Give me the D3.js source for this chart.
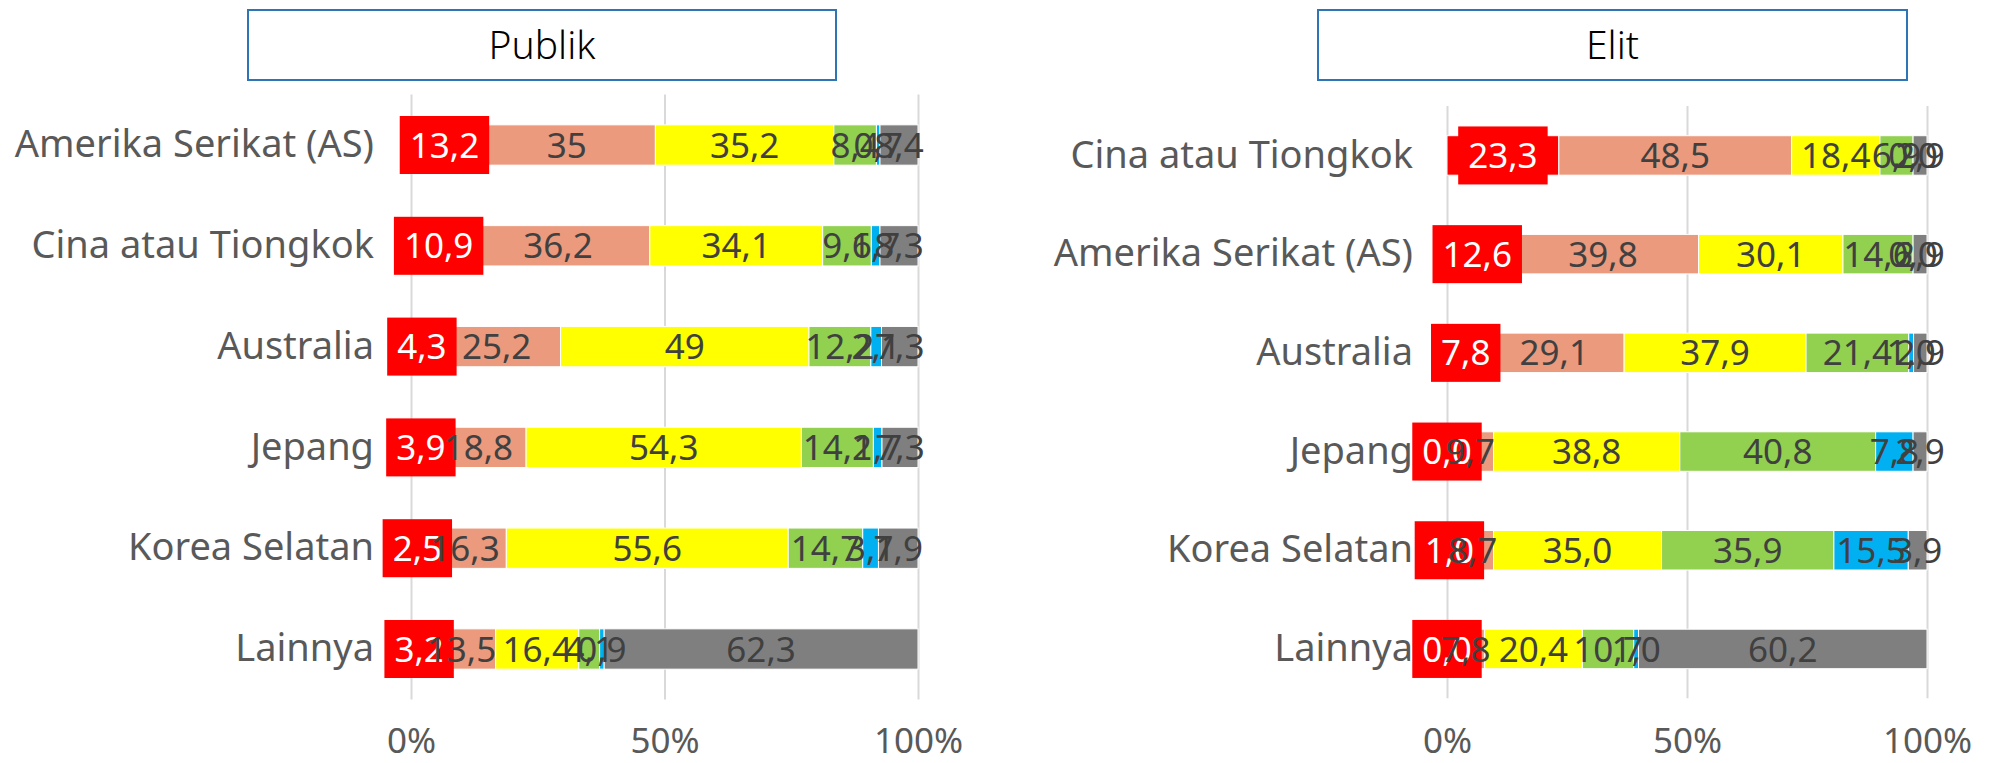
<!DOCTYPE html>
<html>
<head>
<meta charset="utf-8">
<script src="https://cdn.jsdelivr.net/npm/d3@7"></script>
<style>
  body { margin: 0; background: #fff; }
  svg { display: block; font-family: "Noto Sans", sans-serif; }
</style>
</head>
<body>
<svg id="chart" width="1996" height="763"></svg>
<script>
// Data
var seriesKeys = ["s1", "s2", "s3", "s4", "s5", "s6"];
var seriesColors = ["#ff0000", "#eb9a7e", "#ffff00", "#92d050", "#00b0f0", "#7f7f7f"];
var tickValues = [0, 50, 100];

var publikCategories = ["Amerika Serikat (AS)", "Cina atau Tiongkok", "Australia", "Jepang", "Korea Selatan", "Lainnya"];
var publikValues = [
  [13.2, 35, 35.2, 8.4, 0.7, 8.4],
  [10.9, 36.2, 34.1, 9.6, 1.7, 8.3],
  [4.3, 25.2, 49, 12.2, 2.1, 7.3],
  [3.9, 18.8, 54.3, 14.2, 1.7, 7.3],
  [2.5, 16.3, 55.6, 14.7, 3.1, 7.9],
  [3.2, 13.5, 16.4, 4.1, 0.9, 62.3]
];

var elitCategories = ["Cina atau Tiongkok", "Amerika Serikat (AS)", "Australia", "Jepang", "Korea Selatan", "Lainnya"];
var elitValues = [
  [23.3, 48.5, 18.4, 6.9, 0.0, 2.9],
  [12.6, 39.8, 30.1, 14.6, 0.0, 2.9],
  [7.8, 29.1, 37.9, 21.4, 1.0, 2.9],
  [0.0, 9.7, 38.8, 40.8, 7.8, 2.9],
  [1.0, 8.7, 35.0, 35.9, 15.5, 3.9],
  [0.0, 7.8, 20.4, 10.7, 1.0, 60.2]
];

// number formats (comma decimal)
var fmtGeneral = function(v) { return String(v).replace(".", ","); };
var fmtOneDec = function(v) { return v.toFixed(1).replace(".", ","); };

var panels = [
  { title: "Publik", cats: publikCategories, vals: publikValues, fmt: fmtGeneral,
    x0: 411, x1: 918, y0: 94.6, y1: 699.4, box: [248, 10, 588, 70], catGap: 37 },
  { title: "Elit", cats: elitCategories, vals: elitValues, fmt: fmtOneDec,
    x0: 1447, x1: 1927, y0: 106.1, y1: 698.3, box: [1318, 10, 589, 70], catGap: 34 }
];

var svg = d3.select("#chart");

panels.forEach(function(p) {
  var g = svg.append("g");

  // title box
  g.append("rect")
    .attr("x", p.box[0]).attr("y", p.box[1])
    .attr("width", p.box[2]).attr("height", p.box[3])
    .attr("fill", "#fff")
    .attr("stroke", "#2e75b6")
    .attr("stroke-width", 2);
  g.append("text")
    .attr("x", p.box[0] + p.box[2] / 2)
    .attr("y", p.box[1] + p.box[3] / 2)
    .attr("dy", "0.36em")
    .attr("text-anchor", "middle")
    .attr("font-size", 39)
    .attr("font-weight", 300)
    .attr("fill", "#000")
    .text(p.title);

  var x = d3.scaleLinear().domain([0, 100]).range([p.x0, p.x1]).clamp(true);
  var y = d3.scaleBand().domain(p.cats).range([p.y0, p.y1])
    .paddingInner(0.6).paddingOuter(0.3);

  // x axis with gridlines
  var xAxis = g.append("g")
    .attr("transform", "translate(0," + p.y1 + ")")
    .call(d3.axisBottom(x).tickValues(tickValues)
      .tickSize(-(p.y1 - p.y0))
      .tickPadding(753 - p.y1 - 25)
      .tickFormat(function(d) { return d + "%"; }));
  xAxis.select(".domain").remove();
  xAxis.selectAll(".tick line").attr("stroke", "#d9d9d9").attr("stroke-width", 2);
  xAxis.selectAll(".tick text")
    .attr("font-size", 35)
    .attr("font-family", "Noto Sans, sans-serif")
    .attr("fill", "#595959");

  // category axis
  var yAxis = g.append("g")
    .attr("transform", "translate(" + p.x0 + ",0)")
    .call(d3.axisLeft(y).tickSize(0).tickPadding(p.catGap));
  yAxis.select(".domain").remove();
  yAxis.selectAll(".tick text")
    .attr("font-size", 38)
    .attr("font-family", "Noto Sans, sans-serif")
    .attr("fill", "#595959");

  // stacked data
  var rows = p.cats.map(function(c, i) {
    var o = { cat: c };
    seriesKeys.forEach(function(k, j) { o[k] = p.vals[i][j]; });
    return o;
  });
  var stacked = d3.stack().keys(seriesKeys)(rows);

  // bars
  stacked.forEach(function(layer, si) {
    g.append("g").selectAll("rect")
      .data(layer).enter().append("rect")
      .attr("x", function(d) { return x(d[0]); })
      .attr("y", function(d) { return y(d.data.cat); })
      .attr("width", function(d) { return Math.max(0, x(d[1]) - x(d[0])); })
      .attr("height", y.bandwidth())
      .attr("fill", seriesColors[si])
      .attr("stroke", "#fff")
      .attr("stroke-width", 1);
  });

  // labels, series by series so later ones sit on top
  stacked.forEach(function(layer, si) {
    var lg = g.append("g");
    layer.forEach(function(d) {
      var cx = (x(d[0]) + x(d[1])) / 2;
      var cy = y(d.data.cat) + y.bandwidth() / 2;
      var cell = lg.append("g");
      var t = cell.append("text")
        .attr("x", cx).attr("y", cy)
        .attr("dy", "0.36em")
        .attr("text-anchor", "middle")
        .attr("font-size", 35)
        .attr("fill", si === 0 ? "#fff" : "#404040")
        .text(p.fmt(d.data[seriesKeys[si]]));
      if (si === 0) {
        var w = t.node().getComputedTextLength() + 20;
        cell.insert("rect", "text")
          .attr("x", cx - w / 2)
          .attr("y", cy - 29)
          .attr("width", w)
          .attr("height", 58)
          .attr("fill", "#ff0000");
      }
    });
  });
});
</script>
</body>
</html>
